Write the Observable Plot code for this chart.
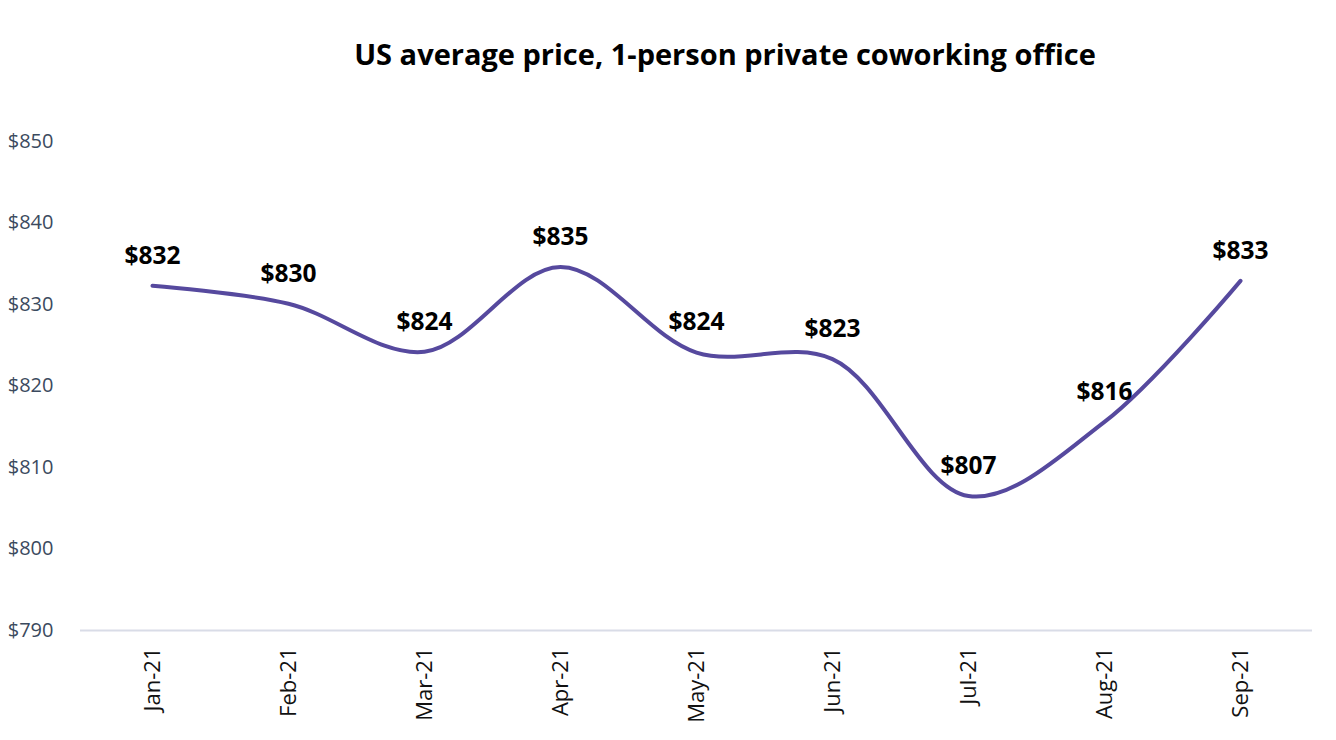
<!DOCTYPE html>
<html>
<head>
<meta charset="utf-8">
<script src="https://cdn.jsdelivr.net/npm/d3@7"></script>
<script src="https://cdn.jsdelivr.net/npm/@observablehq/plot@0.6"></script>
<style>
  html, body { margin: 0; padding: 0; background: #fff; }
  #wrap { width: 1336px; height: 740px; position: relative; overflow: hidden; }
  #title { height: 100px; position: relative; }
  #title span {
    position: absolute; left: 725px; top: 40px; transform: translateX(-50%);
    font-family: "Open Sans", sans-serif; font-weight: 700; font-size: 29px;
    line-height: 28px; color: #000; white-space: nowrap;
  }
</style>
</head>
<body>
<div id="wrap">
  <div id="title"><span>US average price, 1-person private coworking office</span></div>
  <div id="chart"></div>
</div>
<script>
const months = ["Jan-21","Feb-21","Mar-21","Apr-21","May-21","Jun-21","Jul-21","Aug-21","Sep-21"];
const prices = [832.3, 830.1, 824.2, 834.6, 824.1, 823.3, 806.5, 815.6, 832.9];
const yTicks = [790, 800, 810, 820, 830, 840, 850];

const data = months.map((m, i) => ({month: m, price: prices[i]}));

const chart = Plot.plot({
  width: 1336,
  height: 640,
  marginTop: 41,
  marginBottom: 110,
  marginLeft: 80,
  marginRight: 24,
  style: {fontFamily: "'Open Sans', sans-serif", background: "#fff"},
  x: {type: "point", domain: months, padding: 0.5},
  y: {domain: [790, 850]},
  marks: [
    Plot.ruleY([790], {stroke: "#d9dce7", strokeWidth: 2}),
    Plot.axisY({ticks: yTicks, tickFormat: d => "$" + d, tickSize: 0, tickPadding: 27, fontSize: 20, fill: "#3b4a5e", label: null}),
    Plot.axisX({tickRotate: -90, tickSize: 0, tickPadding: 17, fontSize: 22, fill: "#111", label: null}),
    Plot.line(data, {x: "month", y: "price", curve: "catmull-rom", stroke: "#56499e", strokeWidth: 4, strokeLinecap: "round"}),
    Plot.text(data, {x: "month", y: "price", text: d => "$" + Math.round(d.price), dy: -30, fontSize: 24.5, fontWeight: 700, fill: "#000"})
  ]
});
document.getElementById("chart").appendChild(chart);
</script>
</body>
</html>
